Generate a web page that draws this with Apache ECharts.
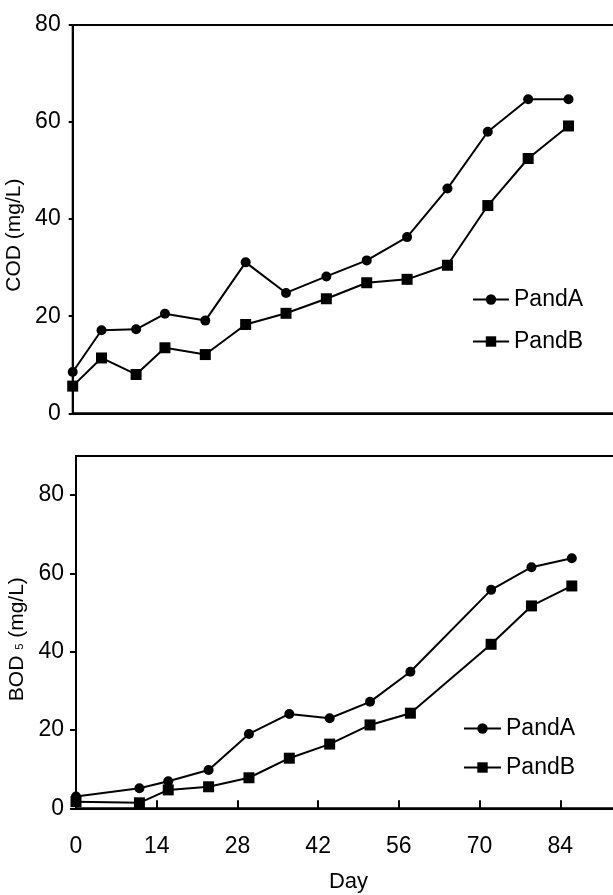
<!DOCTYPE html>
<html>
<head>
<meta charset="utf-8">
<script src="https://cdn.jsdelivr.net/npm/echarts@6/dist/echarts.min.js"></script>
<style>
  html, body { margin: 0; padding: 0; background: #fff; }
  #chart { width: 613px; height: 895px; }
</style>
</head>
<body>
<div id="chart"></div>
<script>
// sampling days and values
var codDays = [0, 5, 11, 16, 23, 30, 37, 44, 51, 58, 65, 72, 79, 86];
var codPondA = [8.5, 17.1, 17.3, 20.5, 19.1, 31.1, 24.8, 28.2, 31.5, 36.3, 46.3, 58.0, 64.7, 64.7];
var codPondB = [5.6, 11.4, 8.0, 13.5, 12.1, 18.3, 20.6, 23.6, 26.9, 27.6, 30.5, 42.8, 52.5, 59.2];

var bodDays = [0, 11, 16, 23, 30, 37, 44, 51, 58, 72, 79, 86];
var bodPondA = [3.0, 5.1, 6.9, 9.8, 19.0, 24.1, 23.0, 27.2, 34.9, 55.8, 61.6, 63.9];
var bodPondB = [1.7, 1.4, 4.7, 5.5, 7.8, 12.8, 16.4, 21.3, 24.3, 41.9, 51.7, 56.8];

var seriesNames = ['PandA', 'PandB'];
var dayTicks = [0, 14, 28, 42, 56, 70, 84];

var numFont = "'Liberation Sans Narrow', 'Liberation Sans', sans-serif";
var textFont = "'Liberation Sans', sans-serif";

function pairs(xs, ys) {
    return xs.map(function (x, i) { return [x, ys[i]]; });
}

function lineSeries(name, symbol, size, grid, data) {
    return {
        name: name,
        type: 'line',
        xAxisIndex: grid,
        yAxisIndex: grid,
        symbol: symbol,
        symbolSize: size,
        showSymbol: true,
        lineStyle: { color: '#000', width: 2 },
        itemStyle: { color: '#000' },
        data: data
    };
}

var myChart = echarts.init(document.getElementById('chart'));
var option = {
    animation: false,
    backgroundColor: '#fff',
    legend: [{
        orient: 'vertical',
        left: 467,
        top: 282,
        itemWidth: 36,
        itemHeight: 13,
        itemGap: 17,
        data: seriesNames,
        textStyle: { color: '#000', fontSize: 23, fontFamily: textFont, lineHeight: 25 }
    }, {
        orient: 'vertical',
        left: 458,
        top: 711,
        itemWidth: 37,
        itemHeight: 13,
        itemGap: 14,
        data: seriesNames,
        textStyle: { color: '#000', fontSize: 23, fontFamily: textFont, lineHeight: 25 }
    }],
    grid: [{
        left: 72.7,
        top: 25,
        width: 565,
        height: 388.3,
        containLabel: false,
        outerBoundsMode: 'none',
        show: true,
        borderColor: '#000',
        borderWidth: 2
    }, {
        left: 76,
        top: 456,
        width: 565,
        height: 352.3,
        containLabel: false,
        outerBoundsMode: 'none',
        show: true,
        borderColor: '#000',
        borderWidth: 2
    }],
    xAxis: [{
        type: 'value',
        gridIndex: 0,
        min: 0,
        max: 98,
        interval: 14,
        axisLine: { lineStyle: { color: '#000', width: 2 } },
        axisTick: { show: false },
        axisLabel: { show: false },
        splitLine: { show: false }
    }, {
        type: 'value',
        gridIndex: 1,
        min: 0,
        max: 98,
        interval: 14,
        name: 'Day',
        nameLocation: 'middle',
        nameGap: 63,
        nameTextStyle: { color: '#000', fontSize: 22, fontFamily: textFont, padding: [0, 20, 0, 0] },
        axisLine: { lineStyle: { color: '#000', width: 2 } },
        axisTick: { inside: true, length: 8, lineStyle: { color: '#000', width: 2 } },
        axisLabel: {
            color: '#000', fontSize: 23, fontFamily: numFont, margin: 27,
            showMaxLabel: false,
            formatter: function (v) { return dayTicks.indexOf(v) >= 0 ? String(v) : ''; }
        },
        splitLine: { show: false }
    }],
    yAxis: [{
        type: 'value',
        gridIndex: 0,
        min: 0,
        max: 80,
        interval: 20,
        name: 'COD (mg/L)',
        nameLocation: 'middle',
        nameGap: 40,
        nameTextStyle: { color: '#000', fontSize: 21, fontFamily: textFont, padding: [0, 32, 0, 0] },
        axisLine: { lineStyle: { color: '#000', width: 2 } },
        axisTick: { length: 4, lineStyle: { color: '#000', width: 2 } },
        axisLabel: { color: '#000', fontSize: 23, fontFamily: numFont, margin: 12 },
        splitLine: { show: false }
    }, {
        type: 'value',
        gridIndex: 1,
        min: 0,
        max: 90,
        interval: 20,
        name: '{n|BOD }{s|5}{n| (mg/L)}',
        nameLocation: 'middle',
        nameGap: 40,
        nameTextStyle: {
            color: '#000', fontFamily: textFont, padding: [0, 14, 0, 0],
            rich: {
                n: { fontSize: 21, fontFamily: textFont, color: '#000' },
                s: { fontSize: 11, fontFamily: textFont, color: '#000', verticalAlign: 'bottom', padding: [0, 0, 2, 0] }
            }
        },
        axisLine: { lineStyle: { color: '#000', width: 2 } },
        axisTick: { length: 6, lineStyle: { color: '#000', width: 2 } },
        axisLabel: { color: '#000', fontSize: 23, fontFamily: numFont, margin: 12, showMaxLabel: false },
        splitLine: { show: false }
    }],
    series: [
        lineSeries('PandA', 'circle', 10, 0, pairs(codDays, codPondA)),
        lineSeries('PandB', 'rect', 11, 0, pairs(codDays, codPondB)),
        lineSeries('PandA', 'circle', 10, 1, pairs(bodDays, bodPondA)),
        lineSeries('PandB', 'rect', 11, 1, pairs(bodDays, bodPondB))
    ]
};

myChart.setOption(option);
window.addEventListener('resize', function () {
    myChart.resize();
});
</script>
</body>
</html>
